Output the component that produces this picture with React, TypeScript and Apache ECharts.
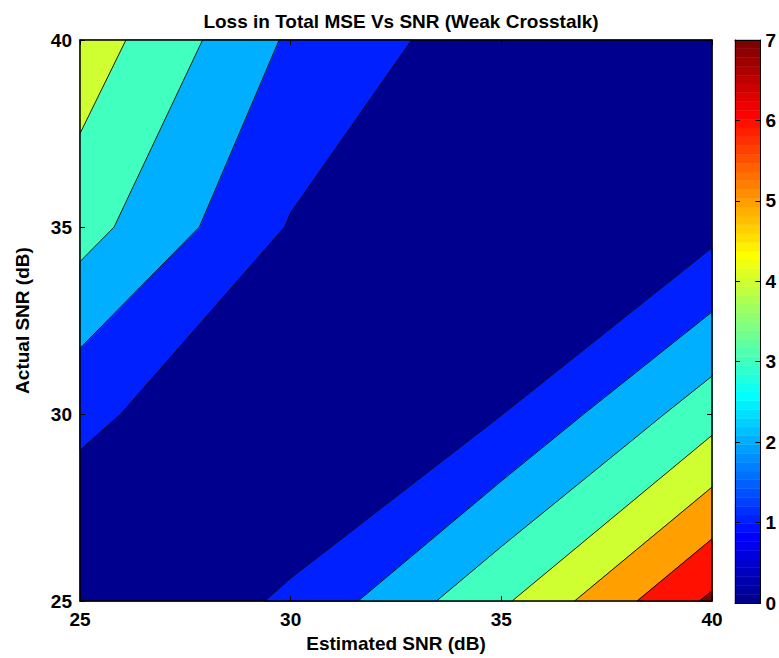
import React, { useEffect, useRef } from 'react';
import * as echarts from 'echarts';

// ---- data ----
const estimatedSNR = [25, 30, 35, 40]; // x grid (dB)
const actualSNR = [25, 30, 35, 40]; // y grid (dB)
// loss in total MSE, one row per actual SNR, columns = estimated SNR
const lossActual25 = [0.0, 1.14, 3.83, 7.2];
const lossActual30 = [1.24, 0.0, 0.98, 3.59];
const lossActual35 = [3.4, 0.93, 0.0, 0.68];
const lossActual40 = [4.6, 1.85, 0.37, 0.0];
const contourLevels = [0, 1, 2, 3, 4, 5, 6, 7];
const colorbarMin = 0;
const colorbarMax = 7;
const titleText = 'Loss in Total MSE Vs SNR (Weak Crosstalk)';
const xName = 'Estimated SNR (dB)';
const yName = 'Actual SNR (dB)';

type P = [number, number];

// MATLAB jet colormap (styling only)
function jet(m: number): string[] {
  const n = Math.ceil(m / 4);
  const u: number[] = [];
  for (let i = 1; i <= n; i++) u.push(i / n);
  for (let i = 1; i < n; i++) u.push(1);
  for (let i = n; i >= 1; i--) u.push(i / n);
  const g0 = Math.ceil(n / 2) - (m % 4 === 1 ? 1 : 0);
  const r = new Array(m).fill(0);
  const g = new Array(m).fill(0);
  const b = new Array(m).fill(0);
  for (let k = 0; k < u.length; k++) {
    const gi = g0 + k + 1;
    const ri = gi + n;
    const bi = gi - n;
    if (gi >= 1 && gi <= m) g[gi - 1] = u[k];
    if (ri >= 1 && ri <= m) r[ri - 1] = u[k];
    if (bi >= 1 && bi <= m) b[bi - 1] = u[k];
  }
  const out: string[] = [];
  for (let i = 0; i < m; i++) {
    out.push(`rgb(${Math.round(r[i] * 255)},${Math.round(g[i] * 255)},${Math.round(b[i] * 255)})`);
  }
  return out;
}
const JET = jet(64);
function levelColor(lev: number): string {
  const idx = Math.min(64, Math.floor(((lev - colorbarMin) / (colorbarMax - colorbarMin)) * 64) + 1);
  return JET[Math.max(1, idx) - 1];
}

function lerp(a: P, b: P, va: number, vb: number, lev: number): P {
  const t = (lev - va) / (vb - va);
  return [a[0] + t * (b[0] - a[0]), a[1] + t * (b[1] - a[1])];
}

function superlevel(c: P[], v: number[], lev: number): P[][] {
  const up = v.map((x) => x >= lev);
  const n = up.filter(Boolean).length;
  if (n === 0) return [];
  if (n === 4) return [c];
  const saddle = n === 2 && up[0] === up[2];
  const center = (v[0] + v[1] + v[2] + v[3]) / 4;
  if (saddle && center < lev) {
    const res: P[][] = [];
    for (let i = 0; i < 4; i++) {
      if (up[i]) {
        const p = (i + 3) % 4;
        const q = (i + 1) % 4;
        res.push([lerp(c[p], c[i], v[p], v[i], lev), c[i], lerp(c[i], c[q], v[i], v[q], lev)]);
      }
    }
    return res;
  }
  const pts: P[] = [];
  for (let i = 0; i < 4; i++) {
    const q = (i + 1) % 4;
    if (up[i]) pts.push(c[i]);
    if (up[i] !== up[q]) pts.push(lerp(c[i], c[q], v[i], v[q], lev));
  }
  return [pts];
}

function isoSegments(c: P[], v: number[], lev: number): [P, P][] {
  const up = v.map((x) => x >= lev);
  const n = up.filter(Boolean).length;
  if (n === 0 || n === 4) return [];
  const cross: (P | null)[] = [0, 1, 2, 3].map((i) => {
    const q = (i + 1) % 4;
    return up[i] !== up[q] ? lerp(c[i], c[q], v[i], v[q], lev) : null;
  });
  const saddle = n === 2 && up[0] === up[2];
  if (saddle) {
    const center = (v[0] + v[1] + v[2] + v[3]) / 4;
    const isolateAbove = center < lev;
    const segs: [P, P][] = [];
    for (let i = 0; i < 4; i++) {
      if (up[i] === isolateAbove) segs.push([cross[(i + 3) % 4] as P, cross[i] as P]);
    }
    return segs;
  }
  const pts = cross.filter((p) => p !== null) as P[];
  return [[pts[0], pts[1]]];
}

const lossRows = [lossActual25, lossActual30, lossActual35, lossActual40];

function cellGeometry(i: number, j: number): { c: P[]; v: number[] } {
  const c: P[] = [
    [estimatedSNR[i], actualSNR[j]],
    [estimatedSNR[i + 1], actualSNR[j]],
    [estimatedSNR[i + 1], actualSNR[j + 1]],
    [estimatedSNR[i], actualSNR[j + 1]],
  ];
  const v = [lossRows[j][i], lossRows[j][i + 1], lossRows[j + 1][i + 1], lossRows[j + 1][i]];
  return { c, v };
}

const cells: [number, number][] = [];
for (let j = 0; j < actualSNR.length - 1; j++) {
  for (let i = 0; i < estimatedSNR.length - 1; i++) cells.push([i, j]);
}

const fillData: number[][] = [];
contourLevels.forEach((lev, k) => {
  cells.forEach(([i, j]) => {
    fillData.push([(estimatedSNR[i] + estimatedSNR[i + 1]) / 2, (actualSNR[j] + actualSNR[j + 1]) / 2, k, i, j]);
  });
});
const lineData: number[][] = [];
contourLevels.forEach((lev, k) => {
  if (k === 0) return;
  cells.forEach(([i, j]) => {
    lineData.push([(estimatedSNR[i] + estimatedSNR[i + 1]) / 2, (actualSNR[j] + actualSNR[j + 1]) / 2, k, i, j]);
  });
});
const barData: number[][] = JET.map((_, s) => [0.5, ((s + 0.5) * (colorbarMax - colorbarMin)) / 64 + colorbarMin, s]);

const FONT = '"Liberation Sans", Arial, Helvetica, sans-serif';
const txt = { color: '#000', fontFamily: FONT, fontWeight: 'bold' as const, fontSize: 19 };

export default function App() {
  const ref = useRef<HTMLDivElement>(null);
  useEffect(() => {
    if (!ref.current) return;
    const chart = echarts.init(ref.current, undefined, { renderer: 'svg' });
    const axisLine = (w: number) => ({ show: true, onZero: false, lineStyle: { color: '#000', width: w } });
    const tickIn = { show: true, inside: true, length: 5, lineStyle: { color: '#000', width: 1 } };
    const option: any = {
      animation: false,
      backgroundColor: '#fff',
      title: {
        text: titleText,
        left: 396,
        top: 7,
        textAlign: 'center',
        textStyle: { ...txt, fontSize: 19 },
      },
      grid: [
        { left: 80, top: 40, width: 632, height: 563 },
        { left: 735, top: 40, width: 32, height: 563 },
      ],
      xAxis: [
        {
          gridIndex: 0, type: 'value', min: 25, max: 40, interval: 5, position: 'bottom', z: 10,
          axisLine: axisLine(1.5), axisTick: tickIn, splitLine: { show: false },
          axisLabel: { ...txt, margin: 9 },
          name: xName, nameLocation: 'middle', nameGap: 31, nameTextStyle: { ...txt },
        },
        {
          gridIndex: 0, type: 'value', min: 25, max: 40, interval: 5, position: 'top', z: 10,
          axisLine: axisLine(1.5), axisTick: tickIn, splitLine: { show: false }, axisLabel: { show: false },
        },
        {
          gridIndex: 1, type: 'value', min: 0, max: 1, position: 'bottom', z: 10,
          axisLine: axisLine(1), axisTick: { show: false }, splitLine: { show: false }, axisLabel: { show: false },
        },
        {
          gridIndex: 1, type: 'value', min: 0, max: 1, position: 'top', z: 10,
          axisLine: axisLine(1), axisTick: { show: false }, splitLine: { show: false }, axisLabel: { show: false },
        },
      ],
      yAxis: [
        {
          gridIndex: 0, type: 'value', min: 25, max: 40, interval: 5, position: 'left', z: 10,
          axisLine: axisLine(1.5), axisTick: tickIn, splitLine: { show: false },
          axisLabel: { ...txt, margin: 8 },
          name: yName, nameLocation: 'middle', nameGap: 48, nameRotate: 90, nameTextStyle: { ...txt },
        },
        {
          gridIndex: 0, type: 'value', min: 25, max: 40, interval: 5, position: 'right', z: 10,
          axisLine: axisLine(1.5), axisTick: tickIn, splitLine: { show: false }, axisLabel: { show: false },
        },
        {
          gridIndex: 1, type: 'value', min: colorbarMin, max: colorbarMax, interval: 1, position: 'left', z: 10,
          axisLine: axisLine(1), axisTick: tickIn, splitLine: { show: false }, axisLabel: { show: false },
        },
        {
          gridIndex: 1, type: 'value', min: colorbarMin, max: colorbarMax, interval: 1, position: 'right', z: 10,
          axisLine: axisLine(1), axisTick: tickIn, splitLine: { show: false },
          axisLabel: { ...txt, margin: 5 },
        },
      ],
      series: [
        {
          type: 'custom', xAxisIndex: 0, yAxisIndex: 0, silent: true, z: 2,
          data: fillData,
          renderItem: (params: any, api: any) => {
            const k = api.value(2);
            const i = api.value(3);
            const j = api.value(4);
            const { c, v } = cellGeometry(i, j);
            const lev = contourLevels[k];
            const color = levelColor(lev);
            const polys = superlevel(c, v, lev);
            return {
              type: 'group',
              children: polys.map((poly) => ({
                type: 'polygon',
                shape: { points: poly.map((p) => api.coord(p)) },
                style: { fill: color, stroke: color, lineWidth: 1 },
              })),
            };
          },
        },
        {
          type: 'custom', xAxisIndex: 0, yAxisIndex: 0, silent: true, z: 3,
          data: lineData,
          renderItem: (params: any, api: any) => {
            const k = api.value(2);
            const i = api.value(3);
            const j = api.value(4);
            const { c, v } = cellGeometry(i, j);
            const segs = isoSegments(c, v, contourLevels[k]);
            return {
              type: 'group',
              children: segs.map(([a, b]) => {
                const pa = api.coord(a);
                const pb = api.coord(b);
                return {
                  type: 'line',
                  shape: { x1: pa[0], y1: pa[1], x2: pb[0], y2: pb[1] },
                  style: { stroke: '#000', lineWidth: 0.9 },
                };
              }),
            };
          },
        },
        {
          type: 'custom', xAxisIndex: 2, yAxisIndex: 2, silent: true, z: 2,
          data: barData,
          renderItem: (params: any, api: any) => {
            const s = api.value(2);
            const step = (colorbarMax - colorbarMin) / 64;
            const lo = api.coord([0, colorbarMin + s * step]);
            const hi = api.coord([1, colorbarMin + (s + 1) * step]);
            return {
              type: 'rect',
              shape: { x: lo[0], y: hi[1], width: hi[0] - lo[0], height: lo[1] - hi[1] },
              style: { fill: JET[s], stroke: JET[s], lineWidth: 0.5 },
            };
          },
        },
      ],
    };
    chart.setOption(option);
    return () => chart.dispose();
  }, []);
  return (
    <div
      ref={ref}
      style={{ position: 'fixed', left: 0, top: 0, width: 779, height: 658, background: '#fff' }}
    />
  );
}
